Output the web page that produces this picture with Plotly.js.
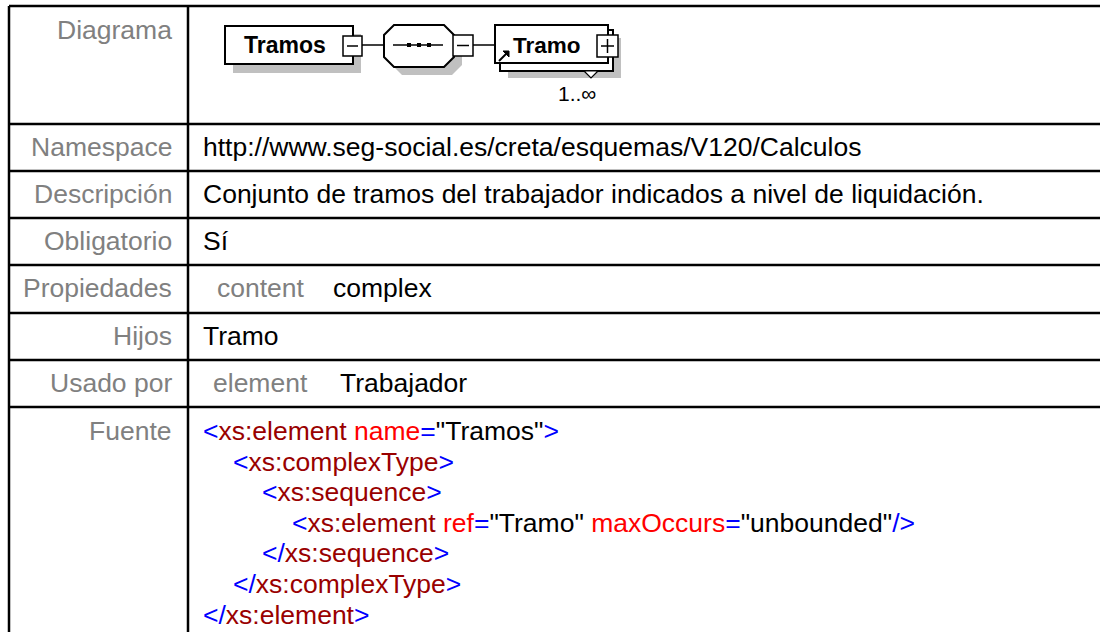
<!DOCTYPE html>
<html>
<head>
<meta charset="utf-8">
<script src="https://cdn.plot.ly/plotly-3.0.1.min.js"></script>
<style>
html,body{margin:0;padding:0;background:#fff;}
#chart{width:1100px;height:632px;}
</style>
</head>
<body>
<div id="chart"></div>
<script>
// ---- content ----
const rowLabels = ['Diagrama','Namespace','Descripción','Obligatorio','Propiedades','Hijos','Usado por','Fuente'];
const namespaceUri = 'http://www.seg-social.es/creta/esquemas/V120/Calculos';
const descripcion = 'Conjunto de tramos del trabajador indicados a nivel de liquidación.';
const obligatorio = 'Sí';
const propKeys = ['content'];
const propVals = ['complex'];
const hijos = ['Tramo'];
const usedByKinds = ['element'];
const usedByNames = ['Trabajador'];
const elementName = 'Tramos';
const childName = 'Tramo';
const childOccurs = '1..∞';
const srcIndent = [0,1,2,3,2,1,0];
const srcTokens = [
  [['<','b'],['xs:element','t'],[' name','a'],['=','b'],['"Tramos"','v'],['>','b']],
  [['<','b'],['xs:complexType','t'],['>','b']],
  [['<','b'],['xs:sequence','t'],['>','b']],
  [['<','b'],['xs:element','t'],[' ref','a'],['=','b'],['"Tramo"','v'],[' maxOccurs','a'],['=','b'],['"unbounded"','v'],['/>','b']],
  [['</','b'],['xs:sequence','t'],['>','b']],
  [['</','b'],['xs:complexType','t'],['>','b']],
  [['</','b'],['xs:element','t'],['>','b']]
];

// ---- styling / layout ----
const FONT = 'Liberation Sans, Arial, Helvetica, sans-serif';
const FS = 26.5;
const SRC_FS = 26.5;
const GRAY = '#808080';
const tokColors = {b:'#0000ff', t:'#990000', a:'#ff0000', v:'#000000'};
const rowTop = [6,124,171,218,265,313,360,407];
const rowMid = [30,147,194,241,288,336,383,431];
const leftX = 9, divX = 188, labelRight = 174, valueX = 201;

const shapes = [];
const annotations = [];
const L = (x0,y0,x1,y1,w,c)=>shapes.push({type:'line',x0,y0,x1,y1,line:{color:c||'#000',width:w||2.5}});
const R = (x0,y0,x1,y1,fill,lw,lc)=>shapes.push({type:'rect',x0,y0,x1,y1,fillcolor:fill,line:{color:lc||'#000',width:lw===undefined?2:lw}});
const P = (path,fill,lw)=>shapes.push({type:'path',path,fillcolor:fill,line:{color:'#000',width:lw===undefined?2:lw}});
const esc = s=>s.replace(/&/g,'&amp;').replace(/</g,'&lt;').replace(/>/g,'&gt;');
const T = (text,x,y,opt)=>annotations.push(Object.assign({text,x,y,xref:'x',yref:'y',showarrow:false,
  xanchor:'left',yanchor:'middle',align:'left',font:{family:FONT,size:FS,color:'#000'}},opt||{}));

// table grid
L(leftX,rowTop[0],1110,rowTop[0]);
L(leftX,rowTop[0],leftX,640);
L(divX,rowTop[0],divX,640);
for(let i=1;i<rowTop.length;i++) L(leftX,rowTop[i],1110,rowTop[i]);

// labels
rowLabels.forEach((lab,i)=>T(esc(lab),labelRight,rowMid[i],{xanchor:'right',font:{family:FONT,size:FS,color:GRAY}}));

// values
T(esc(namespaceUri),valueX,rowMid[1]);
T(esc(descripcion),valueX,rowMid[2]);
T(esc(obligatorio),valueX,rowMid[3]);
T(esc(propKeys[0]),215,rowMid[4],{font:{family:FONT,size:FS,color:GRAY}});
T(esc(propVals[0]),331,rowMid[4]);
T(esc(hijos[0]),valueX,rowMid[5]);
T(esc(usedByKinds[0]),211,rowMid[6],{font:{family:FONT,size:FS,color:GRAY}});
T(esc(usedByNames[0]),338,rowMid[6]);

// source
srcTokens.forEach((toks,i)=>{
  const html = toks.map(([s,k])=>'<span style="color:'+tokColors[k]+'">'+esc(s)+'</span>').join('');
  T(html, 201 + srcIndent[i]*29.7, 431 + i*30.6, {font:{family:FONT,size:SRC_FS,color:'#000'}});
});

// ---- diagram ----
const SH = '#c0c0c0';
// shadows
R(233,34,361,73,SH,0);
P('M402,33 L452,33 L462,43 L462,65 L452,75 L402,75 L392,65 L392,43 Z',SH,0);
R(508,38,621,78,SH,0);
// Tramos element
R(225,26,353,64,'#fff',2);
T('<b>'+esc(elementName)+'</b>',285,45,{xanchor:'center',font:{family:FONT,size:23,color:'#000'}});
R(343,36,362,56,'#fff',1.5);
L(347,46,358,46,1.5);
L(362,45,384,45,1.5);
// sequence octagon
P('M394,25 L444,25 L454,35 L454,57 L444,67 L394,67 L384,57 L384,35 Z','#fff',2);
L(393,45,443,45,1.5);
R(407,43,411,47,'#000',0);
R(417,43,421,47,'#000',0);
R(427,43,431,47,'#000',0);
R(453,35,473,56,'#fff',1.5);
L(457,45.5,469,45.5,1.5);
L(473,45,495,45,1.5);
// Tramo (ref, multiple)
R(500,30,613,71,'#fff',2);
R(495,25,608,63,'#fff',2);
R(597,35,618,57,'#fff',1.5);
L(601,46,614,46,1.5);
L(607.5,39,607.5,53,1.5);
L(499,61,506,54,2);
P('M503,51 L509,51 L509,57 Z','#000',1);
T('<b>'+esc(childName)+'</b>',547,45,{xanchor:'center',font:{family:FONT,size:22.5,color:'#000'}});
P('M584,71 L598,71 L591,78 Z','#fff',1.2);
T(esc(childOccurs),577,93,{xanchor:'center',font:{family:FONT,size:21,color:'#000'}});

const layout = {
  width:1100,height:632,
  margin:{l:0,r:0,t:0,b:0},
  paper_bgcolor:'#fff',plot_bgcolor:'#fff',
  showlegend:false,
  xaxis:{range:[0,1100],visible:false,fixedrange:true},
  yaxis:{range:[632,0],visible:false,fixedrange:true},
  shapes, annotations
};
Plotly.newPlot('chart',[{type:'scatter',x:[],y:[],mode:'markers',hoverinfo:'skip'}],layout,{staticPlot:true,displayModeBar:false});
</script>
</body>
</html>
